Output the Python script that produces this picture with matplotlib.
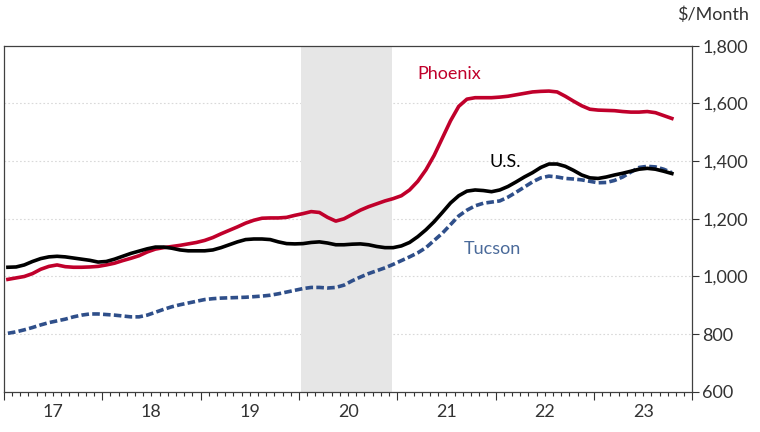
import numpy as np
import matplotlib.pyplot as plt
from matplotlib.ticker import MultipleLocator, FuncFormatter

plt.rcParams['font.family'] = ['Lato', 'DejaVu Sans']

# monthly, Jan 2017 .. Oct 2023
start_year = 2017
us = [1032, 1033, 1040, 1052, 1062, 1068, 1070, 1068, 1064, 1060, 1056, 1050,
      1052, 1060, 1070, 1080, 1088, 1096, 1102, 1102, 1098, 1092, 1089, 1089,
      1089, 1092, 1100, 1110, 1120, 1128, 1130, 1130, 1128, 1120, 1114, 1113,
      1114, 1118, 1120, 1116, 1110, 1110, 1112, 1113, 1110, 1104, 1100, 1100,
      1106, 1118, 1138, 1162, 1190, 1222, 1255, 1280, 1296, 1300, 1298, 1294,
      1300, 1312, 1328, 1345, 1360, 1378, 1390, 1390, 1382, 1368, 1352, 1342,
      1340, 1345, 1352, 1358, 1365, 1372, 1375, 1372, 1365, 1357]
phoenix = [990, 995, 1000, 1010, 1025, 1035, 1040, 1034, 1032, 1032, 1033, 1035,
           1040, 1046, 1055, 1063, 1072, 1085, 1095, 1100, 1104, 1108, 1113, 1118,
           1125, 1135, 1148, 1160, 1172, 1185, 1195, 1202, 1203, 1203, 1205, 1212,
           1218, 1225, 1222, 1205, 1192, 1200, 1215, 1230, 1242, 1252, 1262, 1270,
           1280, 1300, 1330, 1370, 1420, 1480, 1540, 1590, 1615, 1620, 1620, 1620,
           1622, 1625, 1630, 1635, 1640, 1642, 1643, 1640, 1625, 1608, 1592, 1580,
           1577, 1576, 1575, 1572, 1570, 1570, 1572, 1568, 1558, 1548]
tucson = [803, 808, 815, 823, 832, 840, 846, 852, 860, 866, 870, 870,
          868, 866, 863, 860, 860, 866, 876, 886, 895, 902, 908, 914,
          920, 923, 925, 926, 927, 928, 930, 932, 935, 940, 946, 952,
          958, 962, 962, 960, 962, 970, 985, 998, 1010, 1020, 1030, 1042,
          1055, 1068, 1082, 1100, 1125, 1150, 1180, 1210, 1230, 1245, 1254, 1258,
          1262, 1275, 1292, 1310, 1328, 1342, 1348, 1345, 1340, 1338, 1335, 1330,
          1325, 1326, 1333, 1345, 1362, 1378, 1382, 1380, 1372, 1360]
year_labels = ['17', '18', '19', '20', '21', '22', '23']
recession = (2020.02, 2020.95)

t = start_year + (np.arange(len(us)) + 0.5) / 12

fig = plt.figure(figsize=(7.6, 4.32), dpi=100)
ax = fig.add_axes([0.005, 0.093, 0.906, 0.801])

ax.axvspan(recession[0], recession[1], color='#e6e6e6', lw=0, zorder=1)
for v in range(800, 1800, 200):
    ax.axhline(v, color='#d9d9d9', lw=0.8, ls=(0, (1.5, 2)), zorder=0)

red = '#c0002b'
blue = '#2f4f8a'
ax.plot(t, tucson, color=blue, lw=2.6, ls=(0, (2.1, 0.9)), zorder=3)
ax.plot(t, phoenix, color=red, lw=2.6, zorder=4)
ax.plot(t, us, color='black', lw=2.6, zorder=5)

ax.text(2021.53, 1702, 'Phoenix', color=red, fontsize=13, ha='center', va='center')
ax.text(2022.10, 1398, 'U.S.', color='black', fontsize=13, ha='center', va='center')
ax.text(2021.97, 1094, 'Tucson', color='#4a6a9a', fontsize=13, ha='center', va='center')

ax.set_xlim(2017, 2024)
ax.set_ylim(600, 1800)

ax.yaxis.tick_right()
ax.yaxis.set_major_locator(MultipleLocator(200))
ax.yaxis.set_major_formatter(FuncFormatter(lambda v, p: '{:,.0f}'.format(v)))
ax.tick_params(axis='y', direction='out', length=5, width=0.8, colors='#333333',
               labelsize=13, pad=2, labelcolor='#333333')

ax.xaxis.set_major_locator(MultipleLocator(1))
ax.xaxis.set_minor_locator(MultipleLocator(1 / 12))
ax.tick_params(axis='x', which='major', direction='out', length=6, width=0.8,
               labelbottom=False, colors='#333333')
ax.tick_params(axis='x', which='minor', direction='out', length=3, width=0.8,
               colors='#333333')

sec = ax.secondary_xaxis('bottom')
sec.set_xticks(np.arange(2017.5, 2024, 1))
sec.set_xticklabels(year_labels)
sec.tick_params(length=0, labelsize=13, pad=9, labelcolor='#333333')
sec.spines['bottom'].set_visible(False)

for s in ax.spines.values():
    s.set_color('#404040')
    s.set_linewidth(0.9)

fig.text(0.985, 0.967, '$/Month', fontsize=13, color='#333333', ha='right', va='center')

fig.savefig('out.png', dpi=100)
